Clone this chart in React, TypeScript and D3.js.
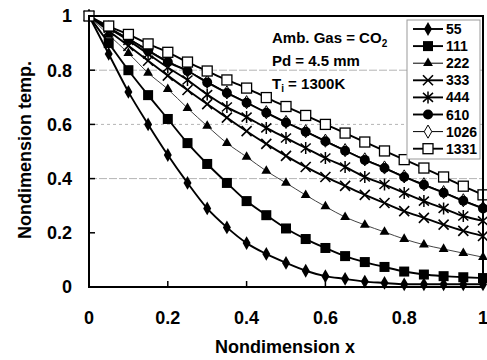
import React from 'react';
import * as d3 from 'd3';

// x positions of the markers (nondimension x)
const xValues = [0, 0.05, 0.1, 0.15, 0.2, 0.25, 0.3, 0.35, 0.4, 0.45, 0.5, 0.55, 0.6, 0.65, 0.7, 0.75, 0.8, 0.85, 0.9, 0.95, 1];

// nondimension temperature for each case
const s55 = [1, 0.86, 0.72, 0.6, 0.487, 0.384, 0.29, 0.22, 0.162, 0.122, 0.089, 0.06, 0.04, 0.03, 0.02, 0.015, 0.01, 0.01, 0.01, 0.01, 0.01];
const s111 = [1, 0.9, 0.8, 0.708, 0.62, 0.531, 0.454, 0.384, 0.317, 0.265, 0.216, 0.177, 0.144, 0.114, 0.092, 0.074, 0.057, 0.046, 0.04, 0.036, 0.033];
const s222 = [1, 0.93, 0.863, 0.79, 0.73, 0.66, 0.594, 0.531, 0.48, 0.428, 0.384, 0.339, 0.297, 0.258, 0.229, 0.203, 0.177, 0.156, 0.14, 0.125, 0.11];
const s333 = [1, 0.945, 0.89, 0.835, 0.78, 0.727, 0.675, 0.625, 0.575, 0.528, 0.484, 0.443, 0.406, 0.373, 0.34, 0.31, 0.28, 0.255, 0.23, 0.207, 0.188];
const s444 = [1, 0.955, 0.91, 0.86, 0.81, 0.764, 0.71, 0.664, 0.627, 0.587, 0.55, 0.513, 0.476, 0.443, 0.406, 0.378, 0.347, 0.317, 0.29, 0.262, 0.244];
const s610 = [1, 0.955, 0.915, 0.872, 0.83, 0.797, 0.755, 0.716, 0.68, 0.643, 0.607, 0.573, 0.538, 0.503, 0.469, 0.439, 0.406, 0.377, 0.348, 0.318, 0.29];
const s1026 = [1, 0.958, 0.918, 0.875, 0.833, 0.799, 0.758, 0.718, 0.682, 0.645, 0.609, 0.575, 0.54, 0.505, 0.471, 0.441, 0.408, 0.379, 0.35, 0.32, 0.292];
const s1331 = [1, 0.963, 0.932, 0.897, 0.866, 0.83, 0.797, 0.764, 0.734, 0.699, 0.666, 0.633, 0.6, 0.568, 0.535, 0.502, 0.47, 0.439, 0.406, 0.372, 0.34];

const seriesNames = ['55', '111', '222', '333', '444', '610', '1026', '1331'];
const seriesValues = [s55, s111, s222, s333, s444, s610, s1026, s1331];
const markerKinds = ['diamond', 'square', 'triangle', 'x', 'star', 'circle', 'openDiamond', 'openSquare'];
// 1026 sits under 610 in the plot, so it is drawn first
const drawOrder = [0, 1, 2, 3, 4, 6, 5, 7];

const xTicks = [0, 0.2, 0.4, 0.6, 0.8, 1];
const yTicks = [0, 0.2, 0.4, 0.6, 0.8, 1];
const xTickLabels = ['0', '0.2', '0.4', '0.6', '0.8', '1'];
const yTickLabels = ['0', '0.2', '0.4', '0.6', '0.8', '1'];

const font = 'Liberation Sans, Arial, sans-serif';

const Marker = ({ kind, x, y }: { kind: string; x: number; y: number }) => {
  const t = `translate(${x},${y})`;
  if (kind === 'diamond') return <path transform={t} d={d3.symbol(d3.symbolDiamond, 55)()!} fill="#000" />;
  if (kind === 'square') return <rect x={x - 5} y={y - 5} width={10} height={10} fill="#000" />;
  if (kind === 'triangle') return <path transform={t} d={d3.symbol(d3.symbolTriangle, 42)()!} fill="#000" />;
  if (kind === 'x') return <path transform={t} d="M-5,-5L5,5M-5,5L5,-5" stroke="#000" strokeWidth={1.6} fill="none" />;
  if (kind === 'star') return <path transform={t} d="M-5,-4.5L5,4.5M-5,4.5L5,-4.5M0,-6L0,6" stroke="#000" strokeWidth={1.5} fill="none" />;
  if (kind === 'circle') return <circle cx={x} cy={y} r={5} fill="#000" />;
  if (kind === 'openDiamond') return <path transform={t} d={d3.symbol(d3.symbolDiamond, 50)()!} fill="#fff" stroke="#000" strokeWidth={1} />;
  return <rect x={x - 5} y={y - 5} width={10} height={10} fill="#fff" stroke="#000" strokeWidth={1.3} />;
};

const App = () => {
  const width = 487;
  const height = 360;
  const x = d3.scaleLinear().domain([0, 1]).range([89, 483]);
  const y = d3.scaleLinear().domain([0, 1]).range([287, 16]);

  const line = d3.line<number>()
    .x((d, i) => x(xValues[i]))
    .y((d) => y(d))
    .curve(d3.curveMonotoneX);

  const legendX = 407;
  const legendY = 20;
  const legendRow = 17.1;

  return (
    <svg width={width} height={height} style={{ position: 'absolute', left: 0, top: 0 }} fontFamily={font}>
      <rect width={width} height={height} fill="#fff" />

      {/* grid lines */}
      {[0.4, 0.6, 0.8].map((v) => (
        <line key={v} x1={x(0)} x2={x(1)} y1={y(v)} y2={y(v)} stroke="#b4b4b4" strokeWidth={1} strokeDasharray={v === 0.6 ? '3,3' : '8,2'} />
      ))}

      {/* series lines */}
      {drawOrder.map((i) => (
        <path key={seriesNames[i]} d={line(seriesValues[i])!} fill="none" stroke={i === 2 ? '#444' : '#000'}
          strokeWidth={i === 2 || i === 6 ? 1 : 1.9} />
      ))}
      {/* markers */}
      {drawOrder.map((i) => (
        <g key={'m' + seriesNames[i]}>
          {seriesValues[i].map((v, j) => <Marker key={j} kind={markerKinds[i]} x={x(xValues[j])} y={y(v)} />)}
        </g>
      ))}

      {/* frame */}
      <rect x={x(0)} y={y(1)} width={x(1) - x(0)} height={y(0) - y(1)} fill="none" stroke="#000" strokeWidth={2} />

      {/* ticks */}
      {yTicks.slice(1, -1).map((v) => (
        <line key={'yt' + v} x1={x(0)} x2={x(0) + 6} y1={y(v)} y2={y(v)} stroke="#000" strokeWidth={1.5} />
      ))}
      {xTicks.slice(1, -1).map((v) => (
        <line key={'xt' + v} x1={x(v)} x2={x(v)} y1={y(0)} y2={y(0) - 6} stroke="#000" strokeWidth={1.5} />
      ))}

      {/* tick labels */}
      {yTicks.map((v, i) => (
        <text key={'yl' + v} x={72} y={y(v)} dy="0.36em" textAnchor="end" fontSize={18} fontWeight="bold">{yTickLabels[i]}</text>
      ))}
      {xTicks.map((v, i) => (
        <text key={'xl' + v} x={x(v)} y={318} dy="0.36em" textAnchor="middle" fontSize={18} fontWeight="bold">{xTickLabels[i]}</text>
      ))}

      {/* axis titles */}
      <text x={285} y={347} dy="0.36em" textAnchor="middle" fontSize={18} fontWeight="bold">Nondimension x</text>
      <text transform="translate(25,150) rotate(-90)" dy="0.36em" textAnchor="middle" fontSize={18} fontWeight="bold">Nondimension temp.</text>

      {/* annotation */}
      <g fontSize={15} fontWeight="bold">
        <text x={272} y={43}>Amb. Gas = CO<tspan fontSize={10} dy={4}>2</tspan></text>
        <text x={272} y={66}>Pd = 4.5 mm</text>
        <text x={272} y={89}>T<tspan fontSize={10} dy={3}>i</tspan><tspan dy={-3}> = 1300K</tspan></text>
      </g>

      {/* legend */}
      <rect x={legendX} y={legendY} width={73} height={139} fill="#fff" stroke="#999" strokeWidth={1} />
      {seriesNames.map((name, i) => {
        const cy = legendY + 9 + i * legendRow;
        return (
          <g key={'lg' + name}>
            <line x1={413} x2={443} y1={cy} y2={cy} stroke="#000" strokeWidth={i === 2 || i === 6 ? 1 : 1.9} />
            <Marker kind={markerKinds[i]} x={428} y={cy} />
            <text x={446} y={cy} dy="0.36em" fontSize={14} fontWeight="bold">{name}</text>
          </g>
        );
      })}
    </svg>
  );
};

export default App;
